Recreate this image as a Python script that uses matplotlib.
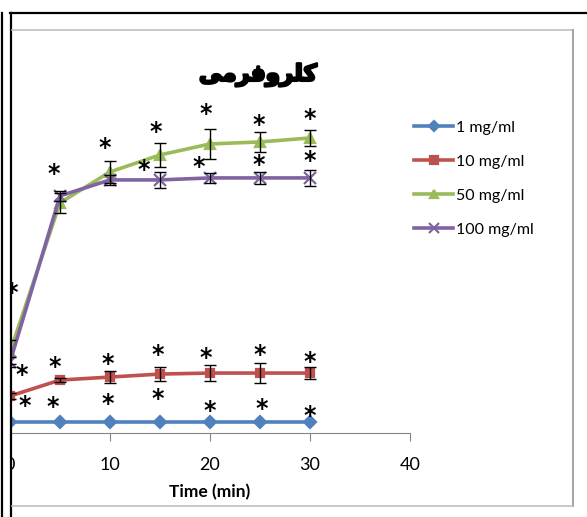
import matplotlib
matplotlib.use("Agg")
import matplotlib.pyplot as plt
import matplotlib.patheffects as pe
from matplotlib.lines import Line2D
from matplotlib.patches import Rectangle

# --- data ---
time_min = [0, 5, 10, 15, 20, 25, 30]

labels = ["1 mg/ml", "10 mg/ml", "50 mg/ml", "100 mg/ml"]

y_1 = [3.3, 3.3, 3.3, 3.3, 3.3, 3.3, 3.3]
y_10 = [11.1, 15.9, 16.8, 17.7, 18.0, 18.0, 18.0]
y_50 = [24.3, 69.1, 78.4, 83.5, 86.8, 87.4, 88.6]
y_100 = [21.3, 71.2, 76.0, 76.0, 76.6, 76.6, 76.6]

err_1 = [0, 0, 0, 0, 0, 0, 0]
err_10 = [0.9, 0.6, 1.8, 2.1, 2.4, 3.0, 1.8]
err_50 = [3.6, 3.0, 3.3, 3.6, 4.5, 3.0, 2.4]
err_100 = [1.5, 1.5, 1.5, 2.4, 1.5, 1.8, 2.4]

# significance stars (x, y)
star_x = [0.2, 4.4, 9.5, 14.6, 19.6, 24.9, 30.0,
          13.4, 18.9, 24.9, 30.0,
          1.2, 4.5, 9.8, 14.8, 19.6, 25.0, 30.0,
          1.5, 4.3, 9.8, 14.8, 20.0, 25.2, 30.0]
star_y = [42.5, 78.4, 86.2, 91.0, 96.4, 93.1, 94.9,
          79.6, 80.5, 81.1, 82.3,
          18.0, 20.4, 21.3, 24.0, 23.1, 24.0, 21.9,
          8.7, 8.4, 9.3, 10.8, 7.2, 7.8, 5.7]

# title: "کلروفرمی" in joined presentation forms, visual order
title = "\uFBFD\uFEE3\uFEAE\uFED3\uFEED\uFEAE\uFEE0\uFB90"

xticks = [0, 10, 20, 30, 40]

colors = ["#4F81BD", "#C0504D", "#9BBB59", "#8064A2"]
markers = ["D", "s", "^", "x"]
sizes = [6.5, 6, 7, 8]

plt.rcParams['font.family'] = ['Lato', 'DejaVu Sans']

W, H = 587, 517
fig = plt.figure(figsize=(W / 100, H / 100), dpi=100)
ax = fig.add_axes([10 / W, 1 - 433 / H, 400 / W, 333 / H])

series = [y_1, y_10, y_50, y_100]
errs = [err_1, err_10, err_50, err_100]
for ys, es, c, m, s, lab in zip(series, errs, colors, markers, sizes, labels):
    ax.plot(time_min, ys, color=c, lw=2.6, marker=m, ms=s, mew=1.6,
            label=lab, clip_on=False, zorder=3)
    if any(es):
        ax.errorbar(time_min, ys, yerr=es, fmt="none", ecolor="black",
                    elinewidth=1, capsize=4, capthick=1, clip_on=False, zorder=4)

for sx, sy in zip(star_x, star_y):
    ax.text(sx, sy - 0.6, "*", fontsize=17, fontweight="bold", ha="center",
            va="center", family="DejaVu Sans", color="black", zorder=5)

ax.set_xlim(0, 40)
ax.set_ylim(0, 100)
ax.set_xticks(xticks)
ax.set_yticks([])
for side in ["top", "right", "left"]:
    ax.spines[side].set_visible(False)
ax.spines["bottom"].set_color("#868686")
ax.tick_params(axis="x", direction="out", length=6, color="#868686",
               labelsize=13, pad=11)
ax.set_xlabel("Time (min)", fontsize=12.5, fontweight="bold", labelpad=8)

ax.legend(loc="upper left", bbox_to_anchor=(398 / 400, (433 - 114) / 333),
          frameon=False, fontsize=11.5, handlelength=2.4, handletextpad=0.2,
          labelspacing=1.25, borderaxespad=0, markerscale=0.85)

fig.text(258 / W, 1 - 75 / H, title, fontsize=16.5, fontweight="bold",
         family="DejaVu Sans", ha="center", va="center",
         path_effects=[pe.withStroke(linewidth=1.8, foreground="black")])

# screenshot frame around the chart
fig.patches.append(Rectangle((0, 0), 10 / W, 1, transform=fig.transFigure,
                             facecolor="white", edgecolor="none", zorder=10))
frame = dict(transform=fig.transFigure, zorder=11)
fig.lines.append(Line2D([10 / W, 1], [1 - 13 / H] * 2, color="black", lw=1.6, **frame))
fig.lines.append(Line2D([10.5 / W] * 2, [0, 1 - 13 / H], color="black", lw=1.6, **frame))
fig.lines.append(Line2D([1.5 / W] * 2, [0, 1 - 13 / H], color="black", lw=1.6, **frame))
fig.lines.append(Line2D([12 / W, 573 / W], [1 - 30 / H] * 2, color="#BEBEBE", lw=1.2, **frame))
fig.lines.append(Line2D([573 / W] * 2, [1 - 30 / H, 1 - 506 / H], color="#A6A6A6", lw=1.5, **frame))
fig.lines.append(Line2D([12 / W, 573 / W], [1 - 506 / H] * 2, color="#BEBEBE", lw=1.2, **frame))

fig.savefig("out.png", dpi=100)
